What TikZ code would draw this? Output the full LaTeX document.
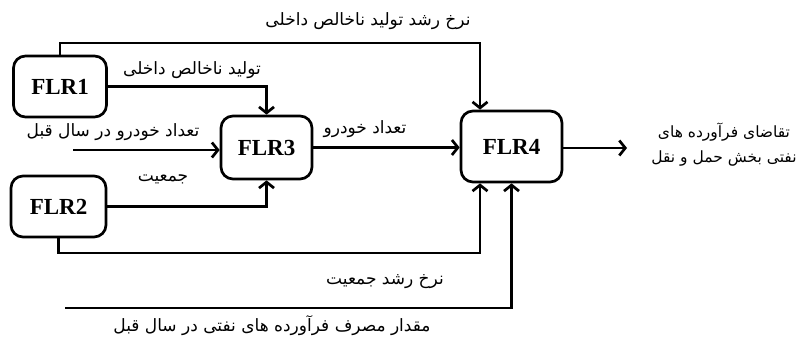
\documentclass[tikz,border=0pt]{standalone}
\usepackage{fontspec}
\setmainfont{Liberation Serif}
\newfontfamily\farsi[Script=Arabic]{DejaVu Sans}
\TeXXeTstate=1
\usetikzlibrary{arrows.meta}
\newcommand{\fa}[1]{{\farsi\beginR #1\endR}}

\begin{document}
\begin{tikzpicture}[x=1pt,y=-1pt,line width=2.7pt,
    >={Straight Barb[length=6pt,width=15pt]},
    flr/.style={draw,rounded corners=12pt,inner sep=0pt,
      font=\bfseries\fontsize{23}{23}\selectfont},
    lbl/.style={inner sep=0pt,font=\fontsize{17}{20}\selectfont}]
  \useasboundingbox (0,0) rectangle (805,339);
  %\draw[very thin,lightgray] (0,0) grid[step=50] (805,339);

  % blocks
  \node[flr,minimum width=93pt,minimum height=61pt] (f1) at (60,86.5) {FLR1};
  \node[flr,minimum width=95pt,minimum height=61pt] (f2) at (58.5,206.5) {FLR2};
  \node[flr,minimum width=91pt,minimum height=63pt] (f3) at (266.5,147.5) {FLR3};
  \node[flr,minimum width=101pt,minimum height=71pt] (f4) at (511.5,146.5) {FLR4};

  % free ends
  \coordinate (t1) at (480,43);
  \coordinate (in1) at (73,150);
  \coordinate (b1) at (480,253);
  \coordinate (in2) at (65,308);
  \coordinate (out) at (627,148);

  \draw[->] (f1.north) |- (t1) -- (t1 |- f4.north);
  \draw[->] (f1.east) -| (f3.north);
  \draw[->] (in1) -- (in1 -| f3.west);
  \draw[->] (f2.east) -| (f3.south);
  \draw[->] (f3.east) -- (f3.east -| f4.west);
  \draw[->] (f2.south) |- (b1) -- (b1 |- f4.south);
  \draw[->] (in2) -| (f4.south);
  \draw[->] (f4.east |- out) -- (out);

  % labels
  \node[lbl] (l1) at (368,21) {\fa{نرخ رشد تولید ناخالص داخلی}};
  \node[lbl] (l2) at (192,70) {\fa{تولید ناخالص داخلی}};
  \node[lbl] (l3) at (113,132) {\fa{تعداد خودرو در سال قبل}};
  \node[lbl] (l4) at (163,179) {\fa{جمعیت}};
  \node[lbl] (l5) at (365,129) {\fa{تعداد خودرو}};
  \node[lbl] (l6) at (385,282) {\fa{نرخ رشد جمعیت}};
  \node[lbl] (l7) at (272,326) {\fa{مقدار مصرف فرآورده های نفتی در سال قبل}};
  \node[lbl,align=center,font=\fontsize{15.5}{25}\selectfont] (l8) at (724,145)
    {\fa{تقاضای فرآورده های}\\\fa{نفتی بخش حمل و نقل}};
\end{tikzpicture}
\end{document}
